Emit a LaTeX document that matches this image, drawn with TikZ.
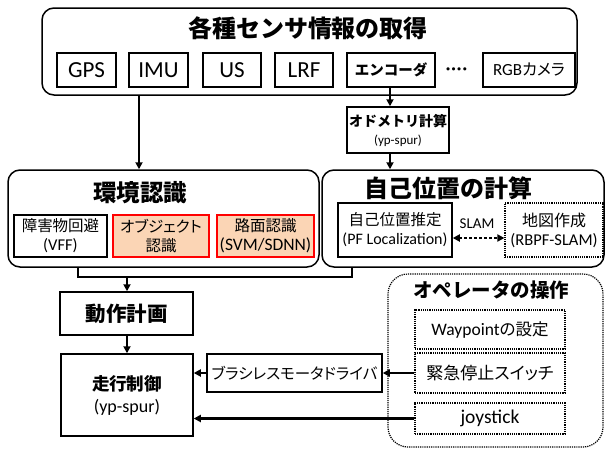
\documentclass[tikz,border=0pt]{standalone}
\usepackage{fontspec}
\setmainfont{Carlito}
\newfontfamily\jpf{Noto Sans CJK JP}
\newfontfamily\jpp{Noto Sans CJK JP}[RawFeature=+palt]
\usetikzlibrary{arrows.meta}
\definecolor{objfill}{RGB}{251,213,181}
\newcommand\fsz[2]{\fontsize{#1}{#2}\selectfont}
\begin{document}
\begin{tikzpicture}[x=1pt,y=-1pt,
  bx/.style={draw, line width=1.5pt, inner sep=0pt, align=center},
  grp/.style={draw, line width=1.5pt, rounded corners=12pt, inner sep=0pt},
  dbx/.style={draw, line width=1.2pt, densely dotted, inner sep=0pt, align=center},
  conn/.style={line width=2.2pt},
  arr/.style={conn, -{Triangle[length=7pt,width=7pt]}},
  redbox/.style={bx, draw=red, fill=objfill},
  ttl/.style={inner sep=0pt}
]
\useasboundingbox (0,0) rectangle (606,448);

% top group
\node[grp, minimum width=535pt, minimum height=87pt] (top) at (309.5,51.5) {};
\node[ttl, font=\jpf\bfseries\fsz{24}{28}] (ttop) at (308,28) {各種センサ情報の取得};
\node[bx, minimum width=59pt, minimum height=34pt, font=\fsz{23}{26}] (gps) at (86.5,70) {GPS};
\node[bx, minimum width=59pt, minimum height=34pt, font=\fsz{23}{26}] (imu) at (158.5,70) {IMU};
\node[bx, minimum width=58pt, minimum height=34pt, font=\fsz{23}{26}] (us) at (232,70) {US};
\node[bx, minimum width=58pt, minimum height=34pt, font=\fsz{23}{26}] (lrf) at (304,70) {LRF};
\node[bx, minimum width=88pt, minimum height=34pt, font=\jpf\bfseries\fsz{14.5}{16}] (enc) at (391,70) {エンコーダ};
\node[ttl, font=\fsz{22}{24}] (dots) at (456.5,72) {····};
\node[bx, minimum width=92pt, minimum height=34pt, font=\fsz{17}{18}] (rgb) at (529,70) {RGB{\jpp\fsz{16}{18}カメラ}};

% odometry
\node[bx, minimum width=102pt, minimum height=46pt, font=\fsz{13}{18}] (odo) at (398,130) {{\jpf\bfseries\fsz{14}{16}オドメトリ計算}\\{\fsz{13}{14}(yp-spur)}};

% environment recognition
\node[grp, minimum width=311pt, minimum height=97pt] (env) at (163.5,218.5) {};
\node[ttl, font=\jpf\bfseries\fsz{23.5}{28}] (tenv) at (140,193) {環境認識};
\node[bx, minimum width=93pt, minimum height=42pt, font=\fsz{16.5}{19}] (obst) at (60.5,236) {{\jpp\fsz{15.5}{19}障害物回避}\\(VFF)};
\node[redbox, minimum width=96pt, minimum height=42pt, font=\fsz{15.5}{19}] (obj) at (161,236) {{\jpp オブジェクト}\\{\jpp 認識}};
\node[redbox, minimum width=97pt, minimum height=42pt, font=\fsz{17.5}{19}] (road) at (265.5,236) {{\jpp\fsz{15.5}{19}路面認識}\\(SVM/SDNN)};

% self localization
\node[grp, minimum width=282pt, minimum height=97pt] (self) at (463,218.5) {};
\node[ttl, font=\jpf\bfseries\fsz{24}{28}] (tself) at (448,188) {自己位置の計算};
\node[bx, minimum width=114pt, minimum height=54pt, font=\fsz{16}{19}] (pf) at (395,230) {{\jpp\fsz{15.5}{19}自己位置推定}\\(PF Localization)};
\node[dbx, minimum width=98pt, minimum height=54pt, font=\fsz{16.5}{19}] (map) at (554,230) {{\jpp\fsz{16}{19}地図作成}\\(RBPF-SLAM)};
\node[ttl, font=\fsz{15}{16}] (slam) at (477,224) {SLAM};
\coordinate (sy) at (0,238);
\draw[line width=2.5pt, dash pattern=on 2.5pt off 2.5pt, {Triangle[length=7pt,width=7pt]}-{Triangle[length=7pt,width=7pt]}] (pf.east |- sy) -- (map.west |- sy);

% planning and control
\node[bx, minimum width=133pt, minimum height=43pt, font=\jpf\bfseries\fsz{20.5}{24}] (plan) at (126.5,313.5) {動作計画};
\node[bx, minimum width=132pt, minimum height=82pt, font=\fsz{18}{22}] (ctrl) at (127,395) {{\jpf\bfseries\fsz{17.5}{22}走行制御}\\(yp-spur)};
\node[bx, minimum width=175pt, minimum height=38pt, font=\jpp\fsz{15.5}{18}] (bldc) at (294.5,373) {ブラシレスモータドライバ};

% operator
\node[draw, line width=1.2pt, densely dotted, rounded corners=20pt, minimum width=215pt, minimum height=173pt, inner sep=0pt] (op) at (495.5,360.5) {};
\node[ttl, font=\jpf\bfseries\fsz{19.5}{24}] (top2) at (491,290) {オペレータの操作};
\node[dbx, minimum width=150pt, minimum height=39pt, font=\fsz{17.5}{20}] (wp) at (490,329.5) {Waypoint{\jpp\fsz{16.5}{20}の設定}};
\node[dbx, minimum width=150pt, minimum height=40pt, font=\jpp\fsz{17}{20}] (em) at (490,373) {緊急停止スイッチ};
\node[dbx, minimum width=150pt, minimum height=31pt, font=\fsz{19.5}{20}] (joy) at (490,418.5) {joystick};

% connectors
\coordinate (ix) at (139,0);
\coordinate (ex) at (390,0);
\draw[arr] (top.south -| ix) -- (env.north -| ix);
\draw[arr] (enc.south -| ex) -- (odo.north -| ex);
\draw[arr] (odo.south -| ex) -- (self.north -| ex);
\coordinate (bl) at (78,277);
\coordinate (br) at (352,277);
\coordinate (bm) at (127,277);
\draw[conn] (env.south -| bl) -- (bl) -- (br) -- (self.south -| br);
\draw[arr] (bm) -- (plan.north -| bm);
\draw[arr] (plan.south -| bm) -- (ctrl.north -| bm);
\draw[arr] (em.west) -- (bldc.east);
\draw[arr] (bldc.west) -- (ctrl.east |- bldc.west);
\draw[arr] (joy.west) -- (ctrl.east |- joy.west);
\end{tikzpicture}
\end{document}
